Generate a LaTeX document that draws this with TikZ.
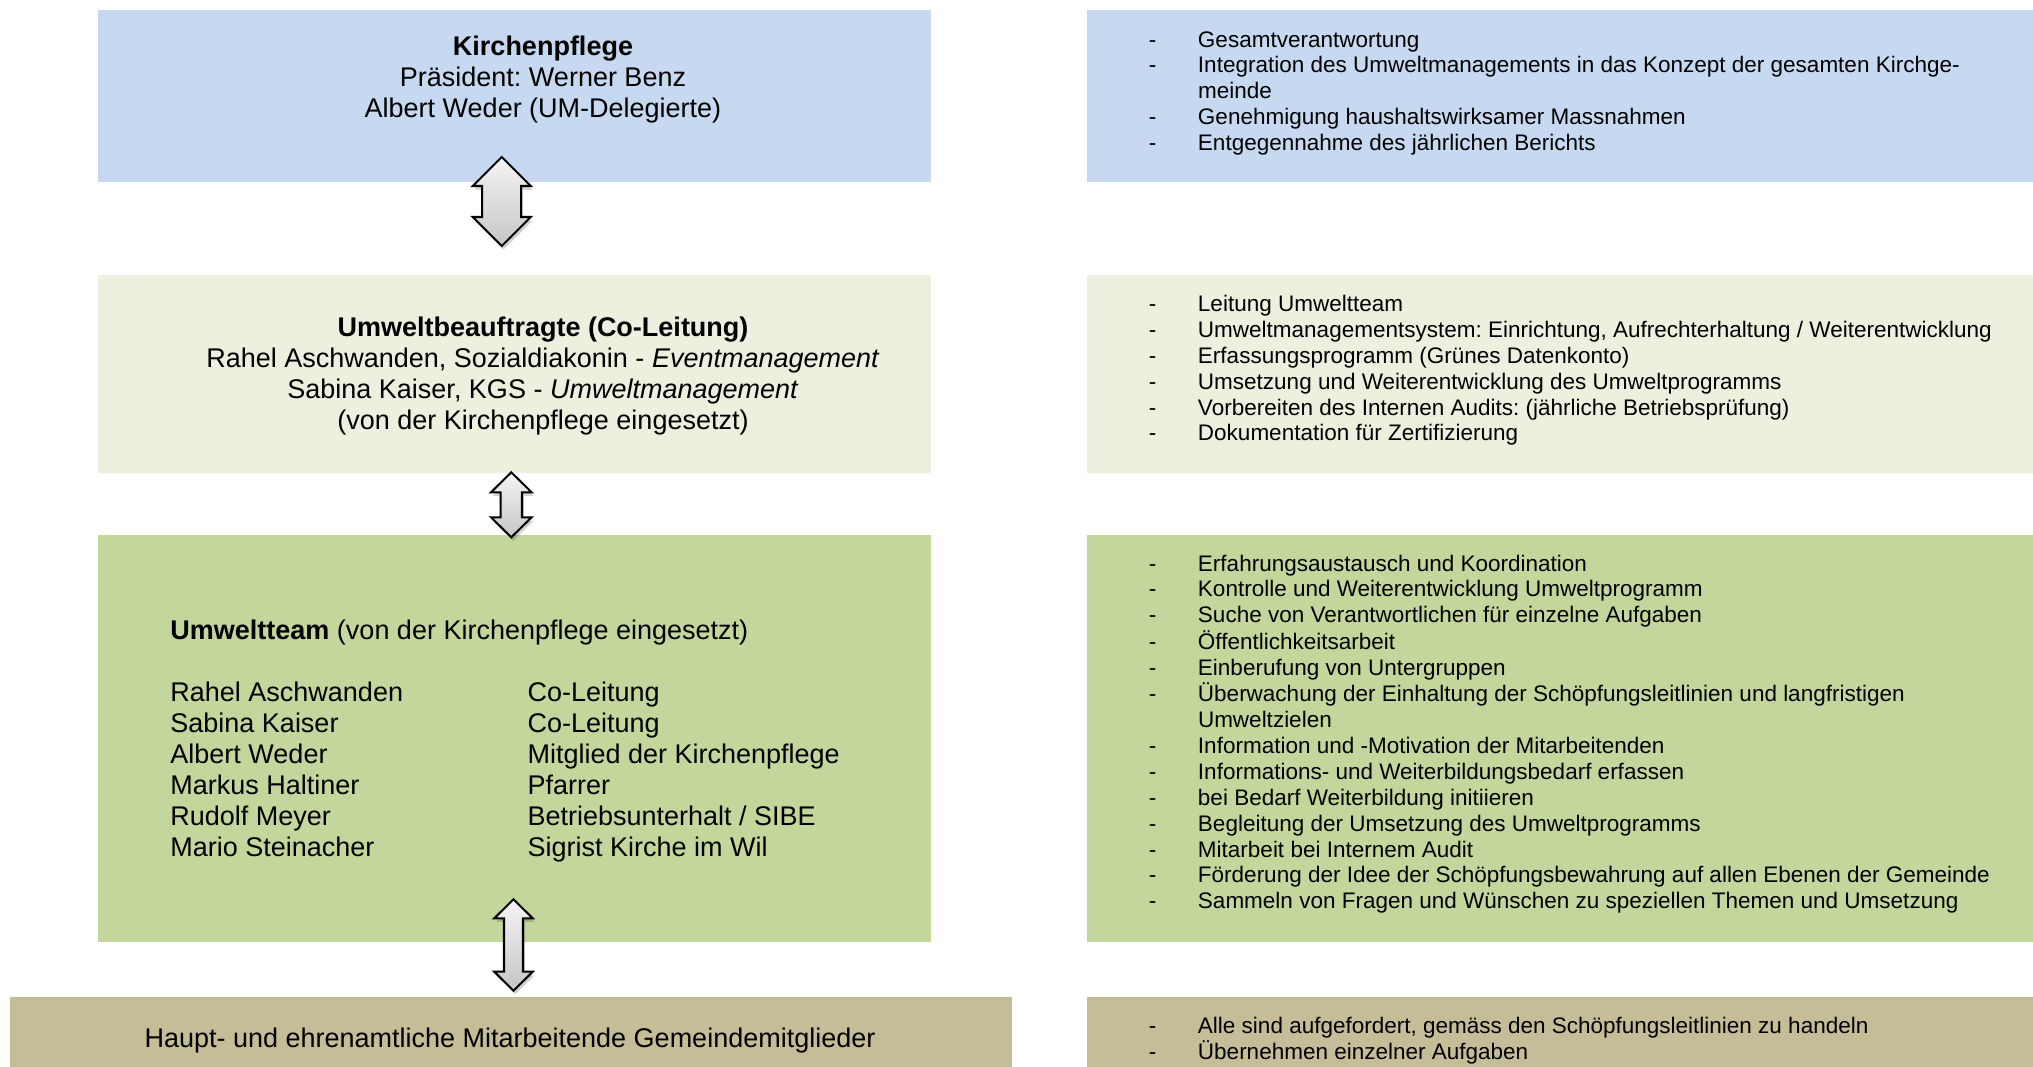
\documentclass[tikz,border=0pt]{standalone}
\usepackage{fontspec}
\setmainfont{Liberation Sans}
\usetikzlibrary{fit}
\definecolor{cblue}{HTML}{C6D9F1}
\definecolor{clgreen}{HTML}{EBF1DE}
\definecolor{cgreen}{HTML}{C3D69B}
\definecolor{ctan}{HTML}{C4BD97}
\frenchspacing
\newcommand{\arrshape}[6]{(#1,#2) -- (#1+#4,#2+#6) -- (#1+#5,#2+#6) -- (#1+#5,#3-#6) -- (#1+#4,#3-#6) -- (#1,#3) -- (#1-#4,#3-#6) -- (#1-#5,#3-#6) -- (#1-#5,#2+#6) -- (#1-#4,#2+#6) -- cycle}
\newcommand{\blkarrow}[6]{%
  \fill[black,opacity=0.18,xshift=0.8pt,yshift=-1.6pt] \arrshape{#1}{#2}{#3}{#4}{#5}{#6};
  \shade[top color=gray!8,bottom color=gray!45,draw=black,line width=0.9pt,line join=miter] \arrshape{#1}{#2}{#3}{#4}{#5}{#6};
}
\tikzset{
  area/.style={inner sep=0pt,outer sep=0pt,draw=none},
  lefttxt/.style={inner sep=0pt,anchor=base,font=\fontsize{12}{13.8}\selectfont\frenchspacing},
  teamtxt/.style={inner sep=0pt,anchor=base west,font=\fontsize{12}{13.8}\selectfont\frenchspacing},
  righttxt/.style={inner sep=0pt,anchor=base west,font=\fontsize{10}{11.5}\selectfont\frenchspacing}
}
\begin{document}
\begin{tikzpicture}[x=0.44444pt,y=-0.44444pt]
\useasboundingbox (0,0) rectangle (2033,1067);
\fill[white] (0,0) rectangle (2033,1067);
% boxes
\node[area,fill=cblue,fit={(98,10)(931,182)}] (b1L) {};
\node[area,fill=cblue,fit={(1087,10)(2033,182)}] (b1R) {};
\node[area,fill=clgreen,fit={(98,275)(931,473)}] (b2L) {};
\node[area,fill=clgreen,fit={(1087,275)(2033,473)}] (b2R) {};
\node[area,fill=cgreen,fit={(98,535)(931,942)}] (b3L) {};
\node[area,fill=cgreen,fit={(1087,535)(2033,942)}] (b3R) {};
\node[area,fill=ctan,fit={(10,997)(1012,1067)}] (b4L) {};
\node[area,fill=ctan,fit={(1087,997)(2033,1067)}] (b4R) {};
% left texts
\node[lefttxt] (t1) at (543,55) {\begin{tabular}[t]{@{}c@{}}\textbf{Kirchenpflege}\\Präsident: Werner Benz\\Albert Weder (UM-Delegierte)\end{tabular}};
\node[lefttxt] (t2) at (543,336) {\begin{tabular}[t]{@{}c@{}}\textbf{Umweltbeauftragte (Co-Leitung)}\\Rahel Aschwanden, Sozialdiakonin - \textit{Eventmanagement}\\Sabina Kaiser, KGS - \textit{Umweltmanagement}\\(von der Kirchenpflege eingesetzt)\end{tabular}};
\node[teamtxt] (t3) at (170,639) {\begin{tabular}[t]{@{}p{158.7pt}@{}l@{}}\multicolumn{2}{@{}l@{}}{\textbf{Umweltteam} (von der Kirchenpflege eingesetzt)}\\
 & \\
Rahel Aschwanden & Co-Leitung\\
Sabina Kaiser & Co-Leitung\\
Albert Weder & Mitglied der Kirchenpflege\\
Markus Haltiner & Pfarrer\\
Rudolf Meyer & Betriebsunterhalt / SIBE\\
Mario Steinacher & Sigrist Kirche im Wil\end{tabular}};
\node[lefttxt] (t4) at (510,1047) {Haupt- und ehrenamtliche Mitarbeitende Gemeindemitglieder};
% right texts
\node[righttxt] (r1) at (1148.5,47) {\begin{tabular}[t]{@{}p{21.8pt}@{}l@{}}
- & Gesamtverantwortung\\
- & Integration des Umweltmanagements in das Konzept der gesamten Kirchge-\\
 & meinde\\
- & Genehmigung haushaltswirksamer Massnahmen\\
- & Entgegennahme des jährlichen Berichts\end{tabular}};
\node[righttxt] (r2) at (1148.5,311.6) {\begin{tabular}[t]{@{}p{21.8pt}@{}l@{}}
- & Leitung Umweltteam\\
- & Umweltmanagementsystem: Einrichtung, Aufrechterhaltung / Weiterentwicklung\\
- & Erfassungsprogramm (Grünes Datenkonto)\\
- & Umsetzung und Weiterentwicklung des Umweltprogramms\\
- & Vorbereiten des Internen Audits: (jährliche Betriebsprüfung)\\
- & Dokumentation für Zertifizierung\end{tabular}};
\node[righttxt] (r3) at (1148.5,571) {\begin{tabular}[t]{@{}p{21.8pt}@{}l@{}}
- & Erfahrungsaustausch und Koordination\\
- & Kontrolle und Weiterentwicklung Umweltprogramm\\
- & Suche von Verantwortlichen für einzelne Aufgaben\\
- & Öffentlichkeitsarbeit\\
- & Einberufung von Untergruppen\\
- & Überwachung der Einhaltung der Schöpfungsleitlinien und langfristigen\\
 & Umweltzielen\\
- & Information und -Motivation der Mitarbeitenden\\
- & Informations- und Weiterbildungsbedarf erfassen\\
- & bei Bedarf Weiterbildung initiieren\\
- & Begleitung der Umsetzung des Umweltprogramms\\
- & Mitarbeit bei Internem Audit\\
- & Förderung der Idee der Schöpfungsbewahrung auf allen Ebenen der Gemeinde\\
- & Sammeln von Fragen und Wünschen zu speziellen Themen und Umsetzung\end{tabular}};
\node[righttxt] (r4) at (1148.5,1033) {\begin{tabular}[t]{@{}p{21.8pt}@{}l@{}}
- & Alle sind aufgefordert, gemäss den Schöpfungsleitlinien zu handeln\\
- & Übernehmen einzelner Aufgaben\end{tabular}};
% double block arrows
\blkarrow{501.7}{157}{246}{29}{19.5}{29}
\blkarrow{511.3}{472.3}{537.3}{20.3}{10.7}{20}
\blkarrow{513.5}{899.3}{990.7}{19.2}{9.5}{19}
\end{tikzpicture}
\end{document}
